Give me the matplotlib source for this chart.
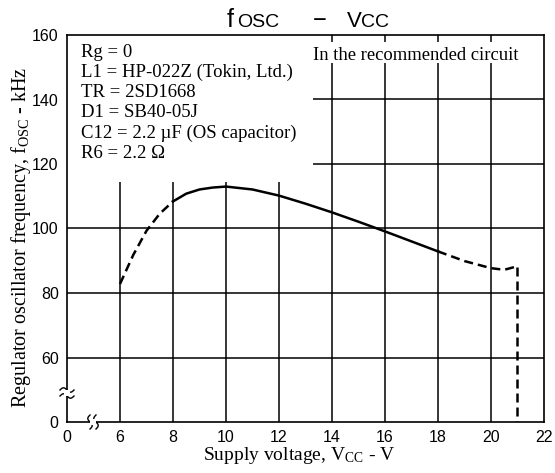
import numpy as np
import matplotlib
matplotlib.use("Agg")
import matplotlib.pyplot as plt
from matplotlib.patches import Rectangle

plt.rcParams['font.family'] = ['Liberation Sans', 'DejaVu Sans']
plt.rcParams['mathtext.fontset'] = 'custom'
plt.rcParams['mathtext.rm'] = 'Liberation Serif'
plt.rcParams['mathtext.it'] = 'Liberation Serif:italic'

SERIF = ['Liberation Serif', 'DejaVu Serif']

# fosc vs Vcc, read in three pieces (dashed / solid / dashed)
v_low = [6.0, 6.5, 7.0, 7.5, 8.0]
f_low = [82.8, 91.8, 99.3, 104.6, 108.4]

v_mid = [8.0, 8.5, 9.0, 9.5, 10.0, 11.0, 12.0, 13.0, 14.0, 15.0, 16.0, 17.0, 18.0]
f_mid = [108.4, 110.8, 112.1, 112.7, 113.0, 112.1, 110.2, 107.7, 105.0, 102.1, 99.1, 96.0, 92.9]

v_high = [18.0, 19.0, 20.0, 20.5, 21.0, 21.0]
f_high = [92.9, 89.9, 87.7, 87.2, 88.3, 40.0]   # drops to the axis floor at 21 V

x_ticks = [4, 6, 8, 10, 12, 14, 16, 18, 20, 22]
x_labels = ['0', '6', '8', '10', '12', '14', '16', '18', '20', '22']
y_ticks = [40, 60, 80, 100, 120, 140, 160]
y_labels = ['0', '60', '80', '100', '120', '140', '160']

notes = ["Rg = 0",
         "L1 = HP-022Z (Tokin, Ltd.)",
         "TR = 2SD1668",
         "D1 = SB40-05J",
         "C12 = 2.2 \u00b5F (OS capacitor)",
         "R6 = 2.2 \u03a9"]

W, H = 555, 473
fig = plt.figure(figsize=(W / 100, H / 100), dpi=100)
ax = fig.add_axes([67 / W, 1 - 422 / H, (544 - 67) / W, (422 - 35) / H])

ax.set_xlim(4, 22)
ax.set_ylim(40, 160)
ax.set_xticks(x_ticks)
ax.set_xticklabels(x_labels)
ax.set_yticks(y_ticks)
ax.set_yticklabels(y_labels)
ax.tick_params(length=0, labelsize=11.5, pad=6)

# grid: vertical 6..20, horizontal 60..140
ax.set_axisbelow(True)
for v in x_ticks[1:-1]:
    ax.axvline(v, color='black', lw=1.1, zorder=0.5)
for f in y_ticks[1:-1]:
    ax.axhline(f, color='black', lw=1.1, zorder=0.5)
for s in ax.spines.values():
    s.set_linewidth(1.2)

# white panels behind the text blocks hide the grid there
ax.add_patch(Rectangle((4, 114.4), 9.28, 46, facecolor='white', edgecolor='none', zorder=1))
ax.add_patch(Rectangle((13.28, 151.3), 8.72, 6.6, facecolor='white', edgecolor='none', zorder=1))

ax.plot(v_low, f_low, color='black', lw=1.8, dashes=(3.6, 2.0), zorder=3)
ax.plot(v_mid, f_mid, color='black', lw=1.8, zorder=3)
ax.plot(v_high, f_high, color='black', lw=1.8, dashes=(3.6, 2.0), zorder=3)

ax.text(0.029, 0.977, "\n".join(notes), transform=ax.transAxes, ha='left', va='top',
        family=SERIF, fontsize=13.5, linespacing=1.23, zorder=4)
ax.text((313 - 67) / 477, (422 - 60) / 387, "In the recommended circuit", transform=ax.transAxes,
        ha='left', va='baseline', family=SERIF, fontsize=13.4, zorder=4)

ax.set_xlabel("Supply voltage, V$_{\\mathrm{CC}}$ - V", family=SERIF, fontsize=14)
ax.xaxis.set_label_coords((299 - 67) / 477, -0.06)
ax.set_ylabel("Regulator oscillator frequency, f$_{\\mathrm{OSC}}$ - kHz", family=SERIF, fontsize=14.5)
ax.yaxis.set_label_coords(-0.072, 0.478)


# axis break marks (two small waves with a white gap in the spine)
def wave(cx, cy, horizontal):
    t = np.linspace(-1, 1, 30)
    for off in (-3.0, 3.0):
        if horizontal:
            xs = cx + 7 * t
            ys = cy + off + 2.2 * np.sin(np.pi * t)
        else:
            xs = cx + off + 2.2 * np.sin(np.pi * t)
            ys = cy + 7 * t
        fig.add_artist(plt.Line2D(xs / W, 1 - ys / H, color='black', lw=1.0,
                                  transform=fig.transFigure))


fig.add_artist(Rectangle((64 / W, 1 - 396 / H), 6 / W, 6 / H, transform=fig.transFigure,
                         facecolor='white', edgecolor='none', zorder=5))
fig.add_artist(Rectangle((90 / W, 1 - 425 / H), 6 / W, 6 / H, transform=fig.transFigure,
                         facecolor='white', edgecolor='none', zorder=5))
wave(67, 393, True)
wave(93, 422, False)

# title: f_OSC - V_CC with small-caps style subscripts
base = 1 - 27 / H
fig.text(227 / W, base, "f", fontsize=18, va='baseline')
fig.text(237 / W, base, "OSC", fontsize=14, va='baseline')
fig.text(320 / W, base, "\u2212", fontsize=17, va='baseline', ha='center')
fig.text(347 / W, base, "V", fontsize=16, va='baseline')
fig.text(361 / W, base, "CC", fontsize=14, va='baseline')

fig.savefig("out.png", dpi=100)
